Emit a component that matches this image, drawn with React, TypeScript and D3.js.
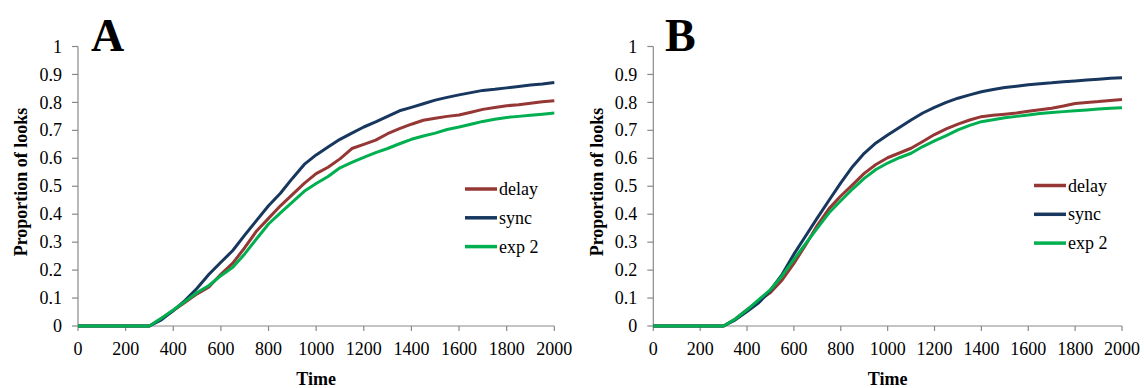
import React from "react";
import * as d3 from "d3";

const TIMES = [0, 300, 350, 400, 450, 500, 550, 600, 650, 700, 750, 800, 850, 900, 950, 1000, 1050, 1100, 1150, 1200, 1250, 1300, 1350, 1400, 1450, 1500, 1550, 1600, 1650, 1700, 1750, 1800, 1850, 1900, 1950, 2000];

const SYNC_A = [0, 0, 0.022, 0.055, 0.092, 0.135, 0.185, 0.228, 0.27, 0.325, 0.378, 0.43, 0.475, 0.528, 0.578, 0.612, 0.64, 0.668, 0.69, 0.712, 0.73, 0.75, 0.77, 0.782, 0.795, 0.808, 0.818, 0.827, 0.835, 0.843, 0.847, 0.852, 0.857, 0.862, 0.866, 0.871];
const DELAY_A = [0, 0, 0.027, 0.055, 0.085, 0.115, 0.14, 0.185, 0.225, 0.28, 0.34, 0.385, 0.43, 0.47, 0.51, 0.545, 0.568, 0.598, 0.635, 0.65, 0.665, 0.688, 0.706, 0.722, 0.736, 0.743, 0.75, 0.755, 0.765, 0.775, 0.782, 0.788, 0.792, 0.797, 0.802, 0.806];
const EXP2_A = [0, 0, 0.028, 0.057, 0.088, 0.12, 0.145, 0.18, 0.21, 0.258, 0.312, 0.365, 0.405, 0.443, 0.482, 0.51, 0.535, 0.566, 0.585, 0.603, 0.62, 0.635, 0.652, 0.668, 0.68, 0.69, 0.703, 0.712, 0.722, 0.732, 0.74, 0.746, 0.75, 0.754, 0.758, 0.762];

const SYNC_B = [0, 0, 0.022, 0.052, 0.083, 0.128, 0.185, 0.257, 0.322, 0.387, 0.45, 0.512, 0.57, 0.618, 0.655, 0.683, 0.71, 0.737, 0.762, 0.782, 0.8, 0.815, 0.827, 0.838, 0.846, 0.853, 0.858, 0.863, 0.867, 0.87, 0.874, 0.877, 0.88, 0.883, 0.886, 0.888];
const DELAY_B = [0, 0, 0.025, 0.058, 0.09, 0.12, 0.165, 0.224, 0.29, 0.36, 0.42, 0.465, 0.505, 0.546, 0.578, 0.602, 0.619, 0.636, 0.66, 0.685, 0.705, 0.722, 0.737, 0.749, 0.754, 0.758, 0.762, 0.768, 0.774, 0.779, 0.787, 0.796, 0.8, 0.803, 0.807, 0.81];
const EXP2_B = [0, 0, 0.025, 0.058, 0.094, 0.13, 0.18, 0.238, 0.295, 0.35, 0.405, 0.448, 0.49, 0.528, 0.56, 0.583, 0.602, 0.618, 0.642, 0.662, 0.681, 0.702, 0.718, 0.731, 0.738, 0.745, 0.75, 0.755, 0.76, 0.764, 0.767, 0.77, 0.773, 0.776, 0.779, 0.781];

const SERIES_NAMES = ["delay", "sync", "exp 2"];
const SERIES_COLORS = ["#953735", "#17375E", "#00B050"];
const X_TICKS = [0, 200, 400, 600, 800, 1000, 1200, 1400, 1600, 1800, 2000];
const Y_TICKS = [0, 0.1, 0.2, 0.3, 0.4, 0.5, 0.6, 0.7, 0.8, 0.9, 1];
const X_LABEL = "Time";
const Y_LABEL = "Proportion of looks";

const FONT = "'Liberation Serif', 'Times New Roman', serif";
const AXIS_COLOR = "#898989";

type PanelProps = {
  letter: string;
  x0: number;
  x1: number;
  ylabelX: number;
  letterX: number;
  legendX: number;
  legendY: number;
  series: number[][];
};

function Panel({ letter, x0, x1, ylabelX, letterX, legendX, legendY, series }: PanelProps) {
  const y0 = 326;
  const y1 = 46.5;
  const xs = d3.scaleLinear().domain([0, 2000]).range([x0, x1]);
  const ys = d3.scaleLinear().domain([0, 1]).range([y0, y1]);
  const line = d3
    .line<number>()
    .x((_, i) => xs(TIMES[i]))
    .y((d) => ys(d));
  // draw order: delay, exp2, sync? keep green on top as in reference
  const order = [0, 1, 2];
  return (
    <g>
      {/* axes */}
      <line x1={x0} x2={x0} y1={ys(1)} y2={y0} stroke={AXIS_COLOR} strokeWidth={1.2} />
      <line x1={x0} x2={x1} y1={y0} y2={y0} stroke={AXIS_COLOR} strokeWidth={1.2} />
      {Y_TICKS.map((t) => (
        <g key={"y" + t}>
          <line x1={x0 - 6} x2={x0} y1={ys(t)} y2={ys(t)} stroke={AXIS_COLOR} strokeWidth={1.2} />
          <text x={x0 - 16} y={ys(t)} dy="0.34em" textAnchor="end" fontSize={18} fontFamily={FONT} fill="#000">
            {String(t)}
          </text>
        </g>
      ))}
      {X_TICKS.map((t) => (
        <g key={"x" + t}>
          <line x1={xs(t)} x2={xs(t)} y1={y0} y2={y0 + 5} stroke={AXIS_COLOR} strokeWidth={1.2} />
          <text x={xs(t)} y={355} textAnchor="middle" fontSize={18} fontFamily={FONT} fill="#000">
            {String(t)}
          </text>
        </g>
      ))}
      {/* series */}
      {order.map((i) => (
        <path
          key={"s" + i}
          d={line(series[i]) || ""}
          fill="none"
          stroke={SERIES_COLORS[i]}
          strokeWidth={3}
          strokeLinejoin="round"
        />
      ))}
      {/* axis labels */}
      <text
        x={(x0 + x1) / 2}
        y={385}
        textAnchor="middle"
        fontSize={18}
        fontWeight="bold"
        fontFamily={FONT}
        fill="#000"
      >
        {X_LABEL}
      </text>
      <text
        transform={`translate(${ylabelX},${182}) rotate(-90)`}
        textAnchor="middle"
        fontSize={18}
        fontWeight="bold"
        fontFamily={FONT}
        fill="#000"
      >
        {Y_LABEL}
      </text>
      <text x={letterX} y={50.5} fontSize={46} fontWeight="bold" fontFamily={FONT} fill="#000">
        {letter}
      </text>
      {/* legend */}
      {SERIES_NAMES.map((name, i) => (
        <g key={"l" + i}>
          <line
            x1={legendX}
            x2={legendX + 32}
            y1={legendY + i * 28.8}
            y2={legendY + i * 28.8}
            stroke={SERIES_COLORS[i]}
            strokeWidth={3.5}
          />
          <text x={legendX + 34} y={legendY + i * 28.8 + 6} fontSize={18} fontFamily={FONT} fill="#000">
            {name}
          </text>
        </g>
      ))}
    </g>
  );
}

export default function App() {
  return (
    <svg width={1144} height={388} style={{ position: "absolute", left: 0, top: 0, background: "#fff" }}>
      <rect width={1144} height={388} fill="#fff" />
      <Panel
        letter="A"
        x0={78}
        x1={554.3}
        ylabelX={27}
        letterX={91}
        legendX={465}
        legendY={189}
        series={[DELAY_A, SYNC_A, EXP2_A]}
      />
      <Panel
        letter="B"
        x0={653.3}
        x1={1122}
        ylabelX={603}
        letterX={665}
        legendX={1034}
        legendY={185.5}
        series={[DELAY_B, SYNC_B, EXP2_B]}
      />
    </svg>
  );
}
